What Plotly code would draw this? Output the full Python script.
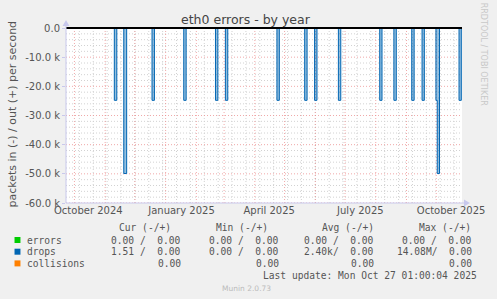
import plotly.graph_objects as go
import pandas as pd

# ---------------- data ----------------
range_start = "2024-09-22 12:00"
range_end = "2025-10-27 00:00"

# drops (in), plotted negative; step series (hv)
drop_times = [
    "2024-09-22 12:00",
    "2024-11-10 06:00", "2024-11-12 18:00",
    "2024-11-19 19:00", "2024-11-22 17:00",
    "2024-12-18 07:00", "2024-12-20 17:00",
    "2025-01-19 07:00", "2025-01-21 17:00",
    "2025-02-20 07:00", "2025-02-22 17:00",
    "2025-03-02 07:00", "2025-03-04 17:00",
    "2025-04-23 07:00", "2025-04-25 17:00",
    "2025-05-21 07:00", "2025-05-23 17:00",
    "2025-05-31 07:00", "2025-06-02 17:00",
    "2025-06-24 07:00", "2025-06-26 17:00",
    "2025-08-05 00:00", "2025-08-07 07:00",
    "2025-08-19 07:00", "2025-08-21 17:00",
    "2025-09-06 07:00", "2025-09-08 17:00",
    "2025-09-16 17:00", "2025-09-19 00:00",
    "2025-09-30 17:00", "2025-10-02 00:00", "2025-10-04 07:00",
    "2025-10-24 00:00", "2025-10-26 07:00",
    "2025-10-27 00:00",
]
drop_values = [
    0,
    -24800, 0,
    -49900, 0,
    -24800, 0,
    -24800, 0,
    -24800, 0,
    -24800, 0,
    -24800, 0,
    -24800, 0,
    -24800, 0,
    -24800, 0,
    -24800, 0,
    -24800, 0,
    -24800, 0,
    -24800, 0,
    -24800, -49900, 0,
    -24800, 0,
    0,
]
flat_times = [range_start, range_end]
errors_values = [0, 0]
collisions_values = [0, 0]

y_ticks = [0, -10000, -20000, -30000, -40000, -50000, -60000]
y_ticklabels = ["0.0", "-10.0 k", "-20.0 k", "-30.0 k", "-40.0 k", "-50.0 k", "-60.0 k"]

x_tickvals = ["2024-10-15 00:00", "2025-01-17 00:00", "2025-04-15 12:00", "2025-07-16 12:00", "2025-10-16 00:00"]
x_ticklabels = ["October 2024", "January 2025", "April 2025", "July 2025", "October 2025"]

legend_names = ["errors", "drops", "collisions"]
legend_colors = ["#00CC00", "#0066B3", "#FF8000"]
cur_vals = ["0.00 /  0.00", "1.51 /  0.00", "0.00"]
min_vals = ["0.00 /  0.00", "0.00 /  0.00", "0.00"]
avg_vals = ["0.00 /  0.00", "2.40k/  0.00", "0.00"]
max_vals = ["0.00 /  0.00", "14.08M/  0.00", "0.00"]

# ---------------- layout geometry ----------------
W, H = 497, 299
L, R, T, B = 66, 31, 28, 96
PW, PH = W - L - R, H - T - B


def px(x):
    return (x - L) / PW


def py(y):
    return (T + PH - y) / PH


AXIS_COL = "#C8C8EC"
MAJOR_GRID = "rgba(235,140,140,0.75)"
MINOR_GRID = "#D2D2D2"
TXT = "#555555"
MONO = "DejaVu Sans Mono"
SANS = "DejaVu Sans"
DOT = "1px,2px"

fig = go.Figure()

fig.add_trace(go.Scatter(x=flat_times, y=errors_values, mode="lines",
                         line=dict(color=legend_colors[0], width=1), showlegend=False))
fig.add_trace(go.Scatter(x=drop_times, y=drop_values, mode="lines", line_shape="hv",
                         fill="tozeroy", fillcolor="rgba(0,102,179,0.42)",
                         line=dict(color=legend_colors[1], width=1), showlegend=False))
fig.add_trace(go.Scatter(x=flat_times, y=collisions_values, mode="lines",
                         line=dict(color=legend_colors[2], width=1), showlegend=False))

shapes = []
# minor grids (gray dotted)
for d in pd.date_range("2024-10-06", "2025-10-26", freq="14D"):
    shapes.append(dict(type="line", xref="x", yref="paper", x0=d, x1=d, y0=0, y1=1,
                       line=dict(color=MINOR_GRID, width=1, dash=DOT), layer="below"))
for v in range(-58000, 0, 2000):
    if v % 10000 != 0:
        shapes.append(dict(type="line", xref="paper", yref="y", x0=0, x1=1, y0=v, y1=v,
                           line=dict(color=MINOR_GRID, width=1, dash=DOT), layer="below"))
# major grids (red dotted)
for d in pd.date_range("2024-10-01", "2025-10-01", freq="MS"):
    shapes.append(dict(type="line", xref="x", yref="paper", x0=d, x1=d, y0=0, y1=1,
                       line=dict(color=MAJOR_GRID, width=1, dash=DOT), layer="below"))
for v in range(-60000, 0, 10000):
    shapes.append(dict(type="line", xref="paper", yref="y", x0=0, x1=1, y0=v, y1=v,
                       line=dict(color=MAJOR_GRID, width=1, dash=DOT), layer="below"))
# zero line
shapes.append(dict(type="line", xref="paper", yref="paper", x0=0, x1=1, y0=1, y1=1,
                   line=dict(color="#000000", width=2), layer="above"))
# axes with arrows
shapes.append(dict(type="line", xref="paper", yref="paper", x0=0, x1=0, y0=0, y1=py(25),
                   line=dict(color=AXIS_COL, width=1)))
shapes.append(dict(type="line", xref="paper", yref="paper", x0=0, x1=px(469), y0=0, y1=0,
                   line=dict(color=AXIS_COL, width=1)))
shapes.append(dict(type="path", xref="paper", yref="paper",
                   path=f"M {px(62.5)} {py(26)} L {px(69.5)} {py(26)} L {px(66)} {py(20)} Z",
                   fillcolor=AXIS_COL, line=dict(width=0)))
shapes.append(dict(type="path", xref="paper", yref="paper",
                   path=f"M {px(468)} {py(199.5)} L {px(468)} {py(206.5)} L {px(474)} {py(203)} Z",
                   fillcolor=AXIS_COL, line=dict(width=0)))
# legend squares
for i, c in enumerate(legend_colors):
    yc = 240 + i * 11.7
    shapes.append(dict(type="rect", xref="paper", yref="paper",
                       x0=px(14), x1=px(20), y0=py(yc + 3), y1=py(yc - 3),
                       fillcolor=c, line=dict(width=0)))

ann = []


def text(x, y, s, size, color=TXT, family=MONO, xanchor="left", angle=0):
    ann.append(dict(xref="paper", yref="paper", x=px(x), y=py(y), text=s, showarrow=False,
                    xanchor=xanchor, yanchor="middle", textangle=angle,
                    font=dict(family=family, size=size, color=color), borderpad=0))


text(248, 19.5, "eth0 errors - by year", 12.5, color="#444444", family=SANS, xanchor="center")
text(11, 114, "packets in (-) / out (+) per second", 11, family=SANS, xanchor="center", angle=-90)
text(488.5, 54, "RRDTOOL / TOBI OETIKER", 8, color="#C8C8C8", family=SANS, xanchor="center", angle=90)

# legend table
hdr_y = 227.3
text(173, hdr_y, "Cur (-/+)", 9.6, xanchor="right")
text(270.7, hdr_y, "Min (-/+)", 9.6, xanchor="right")
text(378.3, hdr_y, "Avg (-/+)", 9.6, xanchor="right")
text(476.3, hdr_y, "Max (-/+)", 9.6, xanchor="right")
for i, name in enumerate(legend_names):
    yc = 240 + i * 11.7
    text(26, yc, name, 9.6)
    text(183, yc, cur_vals[i], 9.6, xanchor="right")
    text(282.3, yc, min_vals[i], 9.6, xanchor="right")
    text(378.3, yc, avg_vals[i], 9.6, xanchor="right")
    text(476.7, yc, max_vals[i], 9.6, xanchor="right")
text(481.7, 275, "Last update: Mon Oct 27 01:00:04 2025", 9.6, xanchor="right")
text(223, 288, "Munin 2.0.73", 7.5, color="#BBBBBB", family=SANS)

fig.update_layout(
    width=W, height=H,
    margin=dict(l=L, r=R, t=T, b=B),
    paper_bgcolor="#F0F0F0", plot_bgcolor="#FFFFFF",
    showlegend=False,
    shapes=shapes, annotations=ann,
    xaxis=dict(type="date", range=[range_start, range_end],
               tickvals=x_tickvals, ticktext=x_ticklabels,
               showgrid=False, zeroline=False, showline=False, ticks="",
               tickfont=dict(family=SANS, size=10, color=TXT)),
    yaxis=dict(range=[-60000, 0], tickvals=y_ticks, ticktext=y_ticklabels,
               showgrid=False, zeroline=False, showline=False,
               ticks="outside", ticklen=3, tickcolor=AXIS_COL,
               tickfont=dict(family=SANS, size=10, color=TXT)),
)

fig.write_html("out.html")
